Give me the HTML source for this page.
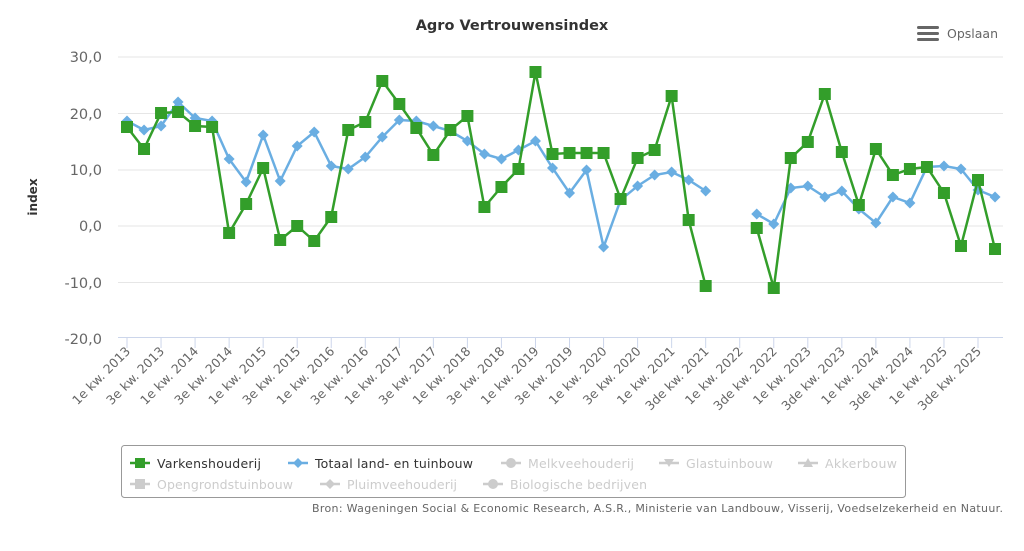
<!DOCTYPE html>
<html><head><meta charset="utf-8"><style>
body{margin:0;background:#fff;}
svg text{font-family:"DejaVu Sans","Liberation Sans",sans-serif;}
</style></head><body>
<svg width="1024" height="546" xmlns="http://www.w3.org/2000/svg">
<rect width="1024" height="546" fill="#fff"/>
<text x="512" y="30" text-anchor="middle" font-size="14.5" font-weight="bold" fill="#333">Agro Vertrouwensindex</text>
<g fill="#666"><rect x="917" y="26" width="22" height="3" rx="1.5"/><rect x="917" y="32" width="22" height="3" rx="1.5"/><rect x="917" y="38" width="22" height="3" rx="1.5"/></g>
<text x="947" y="38" font-size="12.5" fill="#666">Opslaan</text>
<g stroke="#e6e6e6" stroke-width="1">
<line x1="118" x2="1003" y1="57" y2="57"/><line x1="118" x2="1003" y1="113.5" y2="113.5"/><line x1="118" x2="1003" y1="170" y2="170"/><line x1="118" x2="1003" y1="226" y2="226"/><line x1="118" x2="1003" y1="282.5" y2="282.5"/>
</g>
<line x1="118" x2="1003" y1="337.5" y2="337.5" stroke="#ccd6eb"/>
<g font-size="14.5" fill="#666" text-anchor="end">
<text x="102" y="62">30,0</text><text x="102" y="119">20,0</text><text x="102" y="175">10,0</text><text x="102" y="231">0,0</text><text x="102" y="288">-10,0</text><text x="102" y="344">-20,0</text>
</g>
<text transform="translate(37,197) rotate(-90)" text-anchor="middle" font-size="12" font-weight="bold" fill="#333">index</text>
<g id="ticks" stroke="#ccd6eb"></g>
<g id="xl" font-size="12.5" fill="#666"></g>
<polyline id="bl" fill="none" stroke="#6aaee2" stroke-width="2.5"/>
<polyline id="bl2" fill="none" stroke="#6aaee2" stroke-width="2.5"/>
<g id="bm" fill="#6aaee2"></g>
<polyline id="gl" fill="none" stroke="#339e2a" stroke-width="2.5"/>
<polyline id="gl2" fill="none" stroke="#339e2a" stroke-width="2.5"/>
<g id="gm" fill="#339e2a"></g>
<rect x="121.5" y="445.5" width="784" height="52" rx="3" fill="#fff" stroke="#999"/>
<g font-size="12.5">
<line x1="130" x2="150" y1="463" y2="463" stroke="#339e2a" stroke-width="2.5"/><rect x="135" y="458" width="10" height="10" fill="#339e2a"/>
<text x="157" y="468" fill="#333" textLength="104">Varkenshouderij</text>
<line x1="288" x2="308" y1="463" y2="463" stroke="#6aaee2" stroke-width="2.5"/><path d="M298 458l5 5-5 5-5-5z" fill="#6aaee2"/>
<text x="315" y="468" fill="#333" textLength="158">Totaal land- en tuinbouw</text>
<line x1="501" x2="521" y1="463" y2="463" stroke="#ccc" stroke-width="2.5"/><circle cx="511" cy="463" r="5" fill="#ccc"/>
<text x="528" y="468" fill="#ccc" textLength="106">Melkveehouderij</text>
<line x1="659" x2="679" y1="463" y2="463" stroke="#ccc" stroke-width="2.5"/><path d="M664 459h10l-5 8z" fill="#ccc"/>
<text x="686" y="468" fill="#ccc" textLength="87">Glastuinbouw</text>
<line x1="798" x2="818" y1="463" y2="463" stroke="#ccc" stroke-width="2.5"/><path d="M808 458l5 9h-10z" fill="#ccc"/>
<text x="825" y="468" fill="#ccc" textLength="72">Akkerbouw</text>
<line x1="130" x2="150" y1="484" y2="484" stroke="#ccc" stroke-width="2.5"/><rect x="135" y="479" width="10" height="10" fill="#ccc"/>
<text x="157" y="489" fill="#ccc" textLength="136">Opengrondstuinbouw</text>
<line x1="320" x2="340" y1="484" y2="484" stroke="#ccc" stroke-width="2.5"/><path d="M330 479l5 5-5 5-5-5z" fill="#ccc"/>
<text x="347" y="489" fill="#ccc" textLength="110">Pluimveehouderij</text>
<line x1="483" x2="503" y1="484" y2="484" stroke="#ccc" stroke-width="2.5"/><circle cx="493" cy="484" r="5" fill="#ccc"/>
<text x="510" y="489" fill="#ccc" textLength="137">Biologische bedrijven</text>
</g>
<text x="312" y="512" font-size="11" fill="#666" textLength="691">Bron: Wageningen Social &amp; Economic Research, A.S.R., Ministerie van Landbouw, Visserij, Voedselzekerheid en Natuur.</text>
</svg>
<script>
var X=function(i){return 127+17.02*i;};
var g=[127,149,113,112,126,127,233,204,168,240,226,241,217,130,122,81,104,128,155,130,116,207,187,169,72,154,153,153,153,199,158,150,96,220,286,null,null,228,288,158,142,94,152,205,149,175,169,167,193,246,180,249];
var b=[121,130,126,102,118,121,159,182,135,181,146,132,166,169,157,137,120,121,126,131,141,154,159,150,141,168,193,170,247,200,186,175,172,180,191,null,null,214,224,188,186,197,191,209,223,197,203,167,166,169,190,197];
var NS="http://www.w3.org/2000/svg";
function pts(a,s,e){var p=[];for(var i=s;i<=e;i++)p.push(X(i).toFixed(1)+","+a[i]);return p.join(" ");}
document.getElementById("gl").setAttribute("points",pts(g,0,34));
document.getElementById("gl2").setAttribute("points",pts(g,37,51));
document.getElementById("bl").setAttribute("points",pts(b,0,34));
document.getElementById("bl2").setAttribute("points",pts(b,37,51));
var gm=document.getElementById("gm"),bm=document.getElementById("bm");
for(var i=0;i<52;i++){if(g[i]==null)continue;var x=X(i);
var p=document.createElementNS(NS,"path");p.setAttribute("d","M"+x+" "+(b[i]-5.5)+"l5.5 5.5-5.5 5.5-5.5-5.5z");bm.appendChild(p);
var r=document.createElementNS(NS,"rect");r.setAttribute("x",x-6);r.setAttribute("y",g[i]-6);r.setAttribute("width",12);r.setAttribute("height",12);gm.appendChild(r);}
var tk=document.getElementById("ticks"),xl=document.getElementById("xl");
for(var i=0;i<52;i+=2){var x=X(i);
var l=document.createElementNS(NS,"line");l.setAttribute("x1",x);l.setAttribute("x2",x);l.setAttribute("y1",338);l.setAttribute("y2",348);tk.appendChild(l);
var yr=2013+Math.floor(i/4);var q=(i%4==0)?"1e":(yr>=2021?"3de":"3e");
var t=document.createElementNS(NS,"text");t.setAttribute("text-anchor","end");
t.setAttribute("transform","translate("+(x+4)+",352) rotate(-45)");t.textContent=q+" kw. "+yr;xl.appendChild(t);}
</script>
</body></html>
